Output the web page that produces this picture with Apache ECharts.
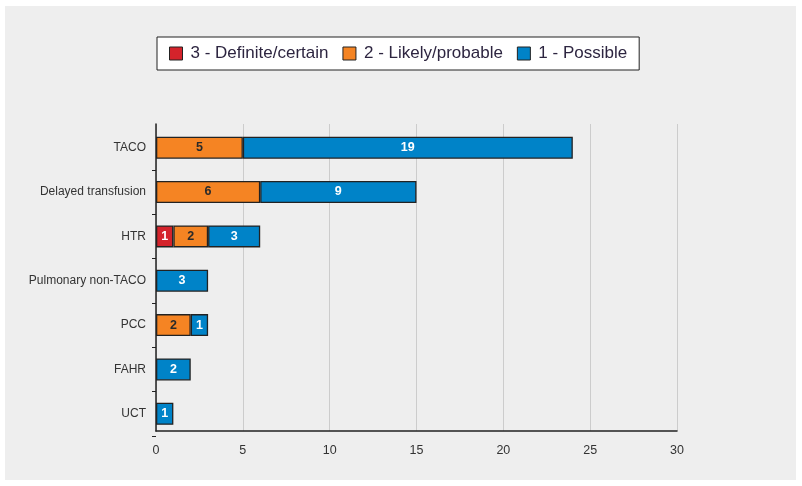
<!DOCTYPE html>
<html>
<head>
<meta charset="utf-8">
<script src="https://cdn.jsdelivr.net/npm/echarts@6/dist/echarts.min.js"></script>
<style>
  html, body { margin: 0; padding: 0; background: #ffffff; }
  #chart { position: absolute; left: 5px; top: 6px; width: 791px; height: 474px; }
</style>
</head>
<body>
<div id="chart"></div>
<script>
// categories top to bottom
var categories = ['TACO', 'Delayed transfusion', 'HTR', 'Pulmonary non-TACO', 'PCC', 'FAHR', 'UCT']
var definite = [0, 0, 1, 0, 0, 0, 0]
var likely = [5, 6, 2, 0, 2, 0, 0]
var possible = [19, 9, 3, 3, 1, 2, 1]
var xTicks = [0, 5, 10, 15, 20, 25, 30]

var font = '"Liberation Sans", Arial, Helvetica, sans-serif'
var xMin = xTicks[0]
var xMax = xTicks[xTicks.length - 1]
var xStep = xTicks[1] - xTicks[0]

function clean (arr) {
  return arr.map(function (v) { return v === 0 ? null : v })
}

function makeSeries (name, values, color, labelColor) {
  return {
    name: name,
    type: 'bar',
    stack: 'all',
    barWidth: 22,
    xAxisIndex: 0,
    yAxisIndex: 0,
    data: clean(values),
    itemStyle: { color: color, borderColor: '#222', borderWidth: 1.3 },
    label: {
      show: true,
      position: 'inside',
      color: labelColor,
      fontFamily: font,
      fontWeight: 'bold',
      fontSize: 12.5
    },
    emphasis: { disabled: true }
  }
}

var chart = echarts.init(document.getElementById('chart'))
chart.setOption({
  backgroundColor: '#eeeeee',
  animation: false,
  legend: {
    top: 31,
    left: 152,
    backgroundColor: '#ffffff',
    borderColor: '#222',
    borderWidth: 1,
    padding: [8, 12, 8, 12],
    itemGap: 14,
    itemWidth: 13,
    itemHeight: 13,
    icon: 'rect',
    itemStyle: { borderColor: '#222', borderWidth: 1 },
    textStyle: { fontFamily: font, fontSize: 17, color: '#2d2540', padding: [0, 0, 0, 3] },
    data: ['3 - Definite/certain', '2 - Likely/probable', '1 - Possible'],
    selectedMode: false
  },
  grid: [
    // bars
    { left: 151, right: 119, top: 119.5, bottom: 44 },
    // frame: split lines, axis lines, x labels
    { left: 151, right: 119, top: 118, bottom: 49 }
  ],
  xAxis: [
    {
      gridIndex: 0,
      type: 'value',
      min: xMin,
      max: xMax,
      interval: xStep,
      show: false
    },
    {
      gridIndex: 1,
      type: 'value',
      min: xMin,
      max: xMax,
      interval: xStep,
      axisLine: { show: true, lineStyle: { color: '#222', width: 1.5 } },
      axisTick: { show: false },
      axisLabel: { color: '#333', fontFamily: font, fontSize: 12.5, margin: 13 },
      splitLine: { show: true, lineStyle: { color: '#cccccc', width: 1 } }
    }
  ],
  yAxis: [
    {
      gridIndex: 0,
      type: 'category',
      inverse: true,
      data: categories,
      axisLine: { show: false },
      axisTick: {
        show: true,
        length: 4,
        lineStyle: { color: '#222' },
        interval: function (index) { return index > 0 && index < categories.length }
      },
      axisLabel: { color: '#333', fontFamily: font, fontSize: 12, margin: 10 }
    },
    {
      gridIndex: 1,
      type: 'value',
      min: 0,
      max: 1,
      axisLine: { show: true, lineStyle: { color: '#222', width: 1.5 } },
      axisTick: { show: false },
      axisLabel: { show: false },
      splitLine: { show: false }
    }
  ],
  series: [
    makeSeries('3 - Definite/certain', definite, '#d4232b', '#ffffff'),
    makeSeries('2 - Likely/probable', likely, '#f58423', '#2a2a2a'),
    makeSeries('1 - Possible', possible, '#0083c8', '#ffffff')
  ]
})
</script>
</body>
</html>
